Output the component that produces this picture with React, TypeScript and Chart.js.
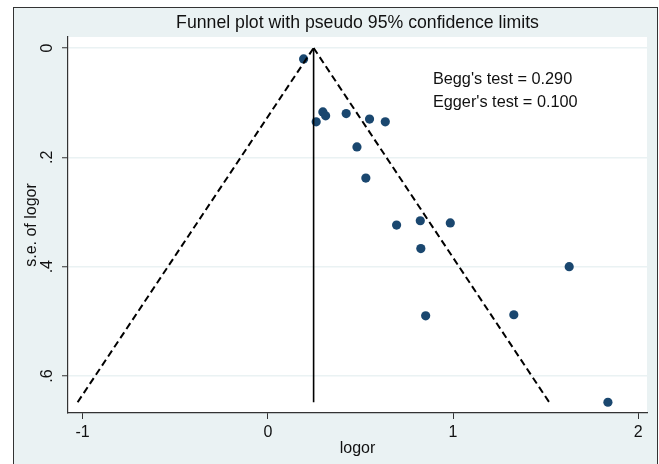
import React, { useEffect, useRef } from "react";
import { Chart, registerables } from "chart.js";

Chart.register(...registerables);

// Study estimates (log odds ratio) and their standard errors
const studyLogOR = [0.193, 0.261, 0.297, 0.312, 0.423, 0.549, 0.634, 0.481, 0.529, 0.695, 0.823, 0.985, 0.826, 1.627, 0.852, 1.328, 1.836];
const studySE = [0.020, 0.135, 0.117, 0.124, 0.120, 0.130, 0.135, 0.181, 0.238, 0.324, 0.316, 0.320, 0.367, 0.400, 0.490, 0.488, 0.648];

// Pseudo 95% confidence limits and pooled estimate
const lowerLimitX = [-1.027, 0.247];
const lowerLimitSE = [0.648, 0];
const upperLimitX = [0.247, 1.519];
const upperLimitSE = [0, 0.648];
const pooledX = [0.247, 0.247];
const pooledSE = [0, 0.648];

// Axes
const xTicks = [-1, 0, 1, 2];
const yTicks = [0, 0.2, 0.4, 0.6];
const yTickLabels = ["0", ".2", ".4", ".6"];
const xRange = [-1.079, 2.047];
const yRange = [-0.0201, 0.6677];

// Annotations
const annotationLines = ["Begg's test = 0.290", "Egger's test = 0.100"];
const annotationX = 0.891;
const annotationY = [0.0665, 0.1075];

const titleText = "Funnel plot with pseudo 95% confidence limits";
const FONT = "'Liberation Sans', Arial, Helvetica, sans-serif";
const BG = "#eaf2f3";
const DARK = "#333333";
const NAVY = "#1a476f";

const zip = (xs: number[], ys: number[]) => xs.map((x, i) => ({ x, y: ys[i] }));

export default function App() {
  const ref = useRef<HTMLCanvasElement | null>(null);

  useEffect(() => {
    if (!ref.current) return;

    const framePlugin = {
      id: "frame",
      beforeDraw(chart: any) {
        const { ctx, chartArea } = chart;
        ctx.save();
        ctx.fillStyle = "#ffffff";
        ctx.fillRect(0, 0, chart.width, chart.height);
        ctx.fillStyle = BG;
        ctx.fillRect(13, 7, 644, 460);
        ctx.strokeStyle = DARK;
        ctx.lineWidth = 1;
        ctx.strokeRect(13.5, 7.5, 644, 460);
        ctx.fillStyle = "#ffffff";
        ctx.fillRect(chartArea.left, chartArea.top, chartArea.right - chartArea.left, chartArea.bottom - chartArea.top);
        ctx.restore();
      },
      afterDraw(chart: any) {
        const { ctx, scales } = chart;
        ctx.save();
        ctx.fillStyle = "#111111";
        ctx.font = `16.3px ${FONT}`;
        ctx.textBaseline = "alphabetic";
        ctx.textAlign = "left";
        annotationLines.forEach((t, i) => {
          ctx.fillText(t, scales.x.getPixelForValue(annotationX), scales.y.getPixelForValue(annotationY[i]));
        });
        ctx.restore();
      },
    };

    const chart = new Chart(ref.current, {
      type: "scatter",
      data: {
        datasets: [
          {
            type: "line",
            data: zip(lowerLimitX, lowerLimitSE),
            borderColor: "#000000",
            borderWidth: 2,
            borderDash: [7, 4],
            pointRadius: 0,
            showLine: true,
            fill: false,
          } as any,
          {
            type: "line",
            data: zip(upperLimitX, upperLimitSE),
            borderColor: "#000000",
            borderWidth: 2,
            borderDash: [7, 4],
            pointRadius: 0,
            showLine: true,
            fill: false,
          } as any,
          {
            type: "line",
            data: zip(pooledX, pooledSE),
            borderColor: "#000000",
            borderWidth: 1.6,
            pointRadius: 0,
            showLine: true,
            fill: false,
          } as any,
          {
            data: zip(studyLogOR, studySE),
            backgroundColor: NAVY,
            borderColor: NAVY,
            borderWidth: 0,
            pointRadius: 4.6,
            showLine: false,
          },
        ],
      },
      options: {
        animation: false,
        responsive: false,
        devicePixelRatio: 1,
        layout: { padding: { left: 13, right: 12, top: 7, bottom: 0 } },
        plugins: {
          legend: { display: false },
          tooltip: { enabled: false },
          title: {
            display: true,
            text: titleText,
            fullSize: false,
            color: "#111111",
            font: { family: FONT, size: 17.7, weight: "normal", lineHeight: 1 },
            padding: { top: 7.6, bottom: 4.7 },
          },
        },
        scales: {
          x: {
            type: "linear",
            min: xRange[0],
            max: xRange[1],
            afterBuildTicks: (s: any) => {
              s.ticks = xTicks.map((v) => ({ value: v }));
            },
            afterFit: (s: any) => {
              s.height = 51;
            },
            ticks: {
              color: "#111111",
              font: { family: FONT, size: 16 },
              padding: 4,
              maxRotation: 0,
              callback: (v: any) => String(v),
            },
            grid: {
              drawOnChartArea: false,
              drawTicks: true,
              tickLength: 6,
              tickColor: DARK,
              tickWidth: 1,
            },
            border: { display: true, color: DARK, width: 1.2 },
            title: {
              display: true,
              text: "logor",
              color: "#111111",
              font: { family: FONT, size: 16, lineHeight: 1.2 },
              padding: { top: 0, bottom: 5.4 },
            },
          },
          y: {
            type: "linear",
            reverse: true,
            min: yRange[0],
            max: yRange[1],
            afterBuildTicks: (s: any) => {
              s.ticks = yTicks.map((v) => ({ value: v }));
            },
            afterFit: (s: any) => {
              s.width = 55;
            },
            ticks: {
              color: "#111111",
              font: { family: FONT, size: 16 },
              padding: 7.8,
              minRotation: 90,
              maxRotation: 90,
              crossAlign: "center",
              callback: (v: any) => {
                const i = yTicks.indexOf(Number(v));
                return i >= 0 ? yTickLabels[i] : "";
              },
            },
            grid: {
              drawOnChartArea: true,
              color: BG,
              lineWidth: 1.5,
              drawTicks: true,
              tickLength: 6,
              tickColor: DARK,
              tickWidth: 1,
            },
            border: { display: true, color: DARK, width: 1.2 },
            title: {
              display: true,
              text: "s.e. of logor",
              color: "#111111",
              font: { family: FONT, size: 16, lineHeight: 1.2 },
              padding: { top: 8.9, bottom: 0 },
            },
          },
        },
      } as any,
      plugins: [framePlugin],
    });

    return () => chart.destroy();
  }, []);

  return (
    <div style={{ position: "fixed", left: 0, top: 0, width: 659, height: 464 }}>
      <canvas ref={ref} width={659} height={464} style={{ display: "block", width: 659, height: 464 }} />
    </div>
  );
}
